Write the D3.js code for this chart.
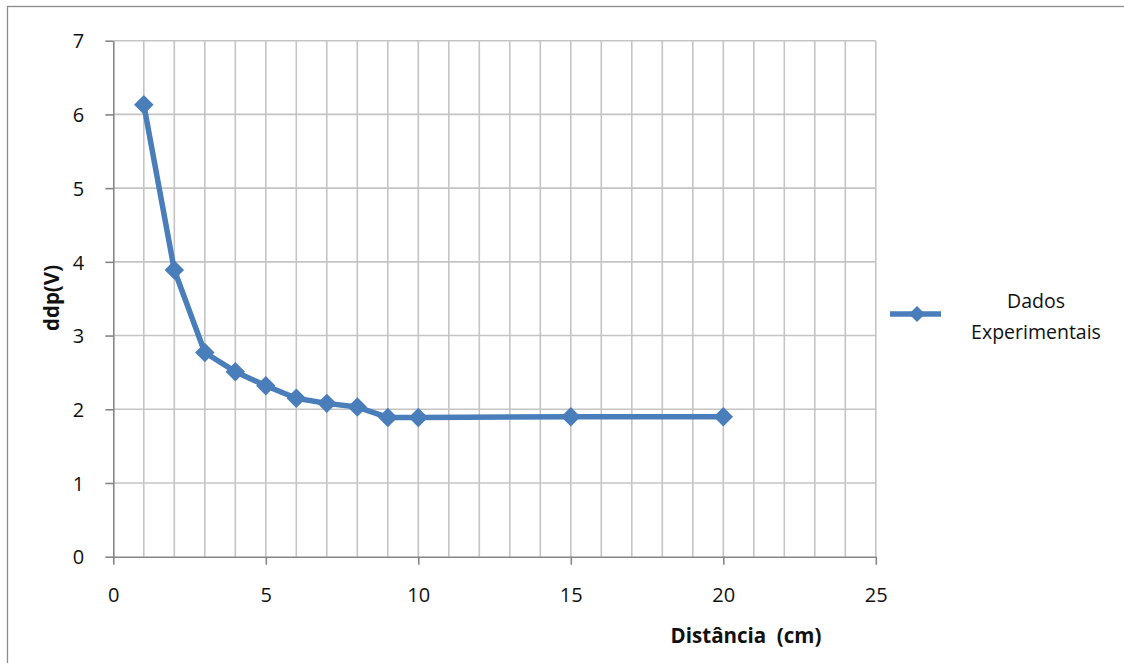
<!DOCTYPE html>
<html>
<head>
<meta charset="utf-8">
<script src="https://cdn.jsdelivr.net/npm/d3@7"></script>
<style>
  html, body { margin: 0; padding: 0; background: #fff; }
  svg { display: block; font-family: "Open Sans", Lato, sans-serif; }
</style>
</head>
<body>
<svg id="chart" width="1124" height="663"></svg>
<script>
// Distance (cm) vs measured potential difference (V)
const distancia = [1, 2, 3, 4, 5, 6, 7, 8, 9, 10, 15, 20];
const ddp = [6.13, 3.89, 2.77, 2.51, 2.32, 2.15, 2.08, 2.03, 1.89, 1.89, 1.90, 1.90];
const xTicks = [0, 5, 10, 15, 20, 25];
const yTicks = [0, 1, 2, 3, 4, 5, 6, 7];
const seriesName = ["Dados", "Experimentais"];

const svg = d3.select("#chart");
const blue = "#4a7ebb";
const textColor = "#111";
const fontFamily = "'Open Sans', Lato, sans-serif";

// outer chart frame
svg.append("rect")
  .attr("x", 7.5).attr("y", 6.5)
  .attr("width", 1130).attr("height", 670)
  .attr("fill", "none").attr("stroke", "#8c8c8c").attr("stroke-width", 1.3);

const x = d3.scaleLinear().domain([0, 25]).range([113.3, 875.8]);
const y = d3.scaleLinear().domain([0, 7]).range([556.7, 40.7]);

// gridlines: vertical every unit, horizontal every volt
const grid = svg.append("g").attr("stroke", "#c4c4c4").attr("stroke-width", 1.6);
grid.selectAll("line.v").data(d3.range(1, 26)).join("line")
  .attr("x1", d => x(d)).attr("x2", d => x(d))
  .attr("y1", y(7)).attr("y2", y(0));
grid.selectAll("line.h").data(yTicks.slice(1)).join("line")
  .attr("x1", x(0)).attr("x2", x(25))
  .attr("y1", d => y(d)).attr("y2", d => y(d));

// axes
const xAxis = svg.append("g")
  .attr("transform", `translate(0,${y(0)})`)
  .call(d3.axisBottom(x).tickValues(xTicks).tickFormat(d3.format("d")).tickSize(8).tickSizeOuter(0));
const yAxis = svg.append("g")
  .attr("transform", `translate(${x(0)},0)`)
  .call(d3.axisLeft(y).tickValues(yTicks).tickFormat(d3.format("d")).tickSize(8).tickSizeOuter(0));

[xAxis, yAxis].forEach(a => {
  a.select(".domain").attr("stroke", "#868686").attr("stroke-width", 1.6);
  a.selectAll(".tick line").attr("stroke", "#868686").attr("stroke-width", 1.6);
  a.selectAll(".tick text").attr("fill", textColor)
    .style("font-size", "20px").style("font-family", fontFamily);
});
xAxis.selectAll(".tick text").attr("y", 45).attr("dy", 0);
yAxis.selectAll(".tick text").attr("x", -29).attr("dy", "0.36em");

// axis titles
svg.append("text")
  .attr("x", 746).attr("y", 643)
  .attr("text-anchor", "middle")
  .style("white-space", "pre")
  .style("font-size", "20.5px").style("font-weight", "bold").attr("fill", textColor)
  .text("Distância  (cm)");
svg.append("text")
  .attr("transform", "translate(59,298) rotate(-90)")
  .attr("text-anchor", "middle")
  .style("font-size", "20.5px").style("font-weight", "bold").attr("fill", textColor)
  .text("ddp(V)");

// data line with diamond markers
const pts = distancia.map((d, i) => [d, ddp[i]]);
svg.append("path")
  .datum(pts)
  .attr("fill", "none").attr("stroke", blue).attr("stroke-width", 5.5)
  .attr("stroke-linejoin", "round")
  .attr("d", d3.line().x(d => x(d[0])).y(d => y(d[1])));

svg.append("g").selectAll("path").data(pts).join("path")
  .attr("transform", d => `translate(${x(d[0])},${y(d[1])}) rotate(45)`)
  .attr("d", d3.symbol().type(d3.symbolSquare).size(190))
  .attr("fill", blue);

// legend
const lg = svg.append("g");
lg.append("line")
  .attr("x1", 890).attr("x2", 941).attr("y1", 314).attr("y2", 314)
  .attr("stroke", blue).attr("stroke-width", 5.5);
lg.append("path")
  .attr("transform", "translate(917,314) rotate(45)")
  .attr("d", d3.symbol().type(d3.symbolSquare).size(130))
  .attr("fill", blue);
lg.selectAll("text").data(seriesName).join("text")
  .attr("x", 1036).attr("y", (d, i) => 308 + i * 31)
  .attr("text-anchor", "middle")
  .style("font-size", "19.5px").attr("fill", textColor)
  .text(d => d);
</script>
</body>
</html>
